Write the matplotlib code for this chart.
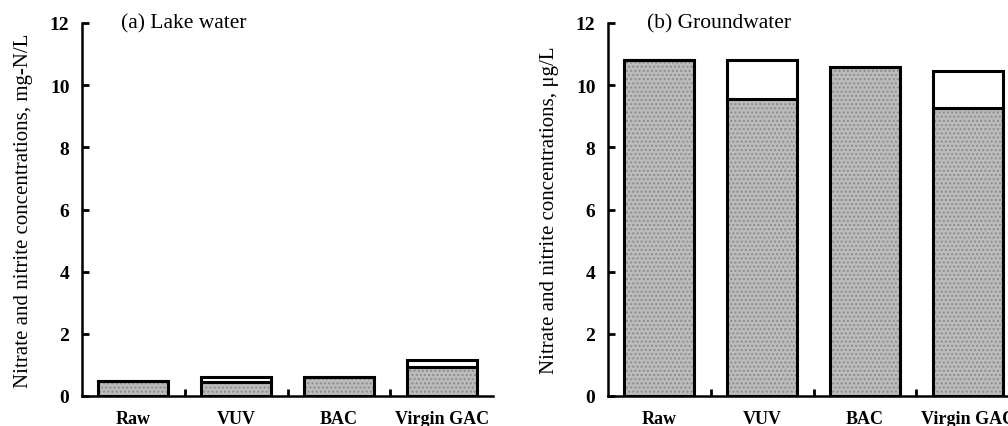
import numpy as np
import matplotlib.pyplot as plt

plt.rcParams.update({
    "font.family": ["Liberation Serif", "DejaVu Serif"],
    "font.size": 11,
    "hatch.linewidth": 1.0,
})

categories = ["Raw", "VUV", "BAC", "Virgin GAC"]

# (a) Lake water, mg-N/L
lake_nitrate = [0.49, 0.46, 0.60, 0.94]
lake_total = [0.49, 0.62, 0.60, 1.16]

# (b) Groundwater, ug/L
ground_nitrate = [10.82, 9.55, 10.57, 9.25]
ground_total = [10.82, 10.80, 10.57, 10.44]

GRAY = "#bcbcbc"


def draw_panel(ax, nitrate, total, title, ylabel):
    x = np.arange(len(categories))
    nitrite = np.array(total) - np.array(nitrate)
    # stippled gray fill (nitrate)
    ax.bar(x, nitrate, width=0.68, color=GRAY, lw=0, zorder=1)
    ax.bar(x, nitrate, width=0.68, fill=False, hatch="....",
           edgecolor="#8c8c8c", lw=0, zorder=1.5)
    ax.bar(x, nitrate, width=0.68, fill=False, edgecolor="black", lw=2.2, zorder=2)
    # white top (nitrite)
    ax.bar(x, nitrite, bottom=nitrate, width=0.68, color="white",
           edgecolor="black", lw=2.2, zorder=2)
    ax.set_xlim(-0.5, 3.5)
    ax.set_ylim(0, 12)
    ax.set_yticks(range(0, 13, 2))
    ax.set_xticks(x)
    ax.set_xticklabels(categories, fontweight="bold", fontsize=13)
    ax.set_xticks([0.5, 1.5, 2.5], minor=True)
    ax.tick_params(axis="x", which="major", length=0, pad=10)
    ax.tick_params(axis="x", which="minor", direction="in", length=5, width=2)
    ax.tick_params(axis="y", direction="in", length=5, width=2, pad=9,
                   labelsize=14)
    for lbl in ax.get_yticklabels():
        lbl.set_fontweight("bold")
    for s in ("top", "right"):
        ax.spines[s].set_visible(False)
    for s in ("left", "bottom"):
        ax.spines[s].set_linewidth(1.8)
    ax.set_ylabel(ylabel, fontsize=15, labelpad=12)
    ax.text(0.095, 1.0, title, transform=ax.transAxes, fontsize=15.5,
            va="center", ha="left")


fig = plt.figure(figsize=(10.08, 4.27), dpi=100)
ax1 = fig.add_axes([82 / 1008, 30 / 427, 411 / 1008, 373 / 427])
ax2 = fig.add_axes([608 / 1008, 30 / 427, 411 / 1008, 373 / 427])

draw_panel(ax1, lake_nitrate, lake_total, "(a) Lake water",
           "Nitrate and nitrite concentrations, mg-N/L")
draw_panel(ax2, ground_nitrate, ground_total, "(b) Groundwater",
           "Nitrate and nitrite concentrations, \u03bcg/L")

fig.savefig("out.png", dpi=100)
